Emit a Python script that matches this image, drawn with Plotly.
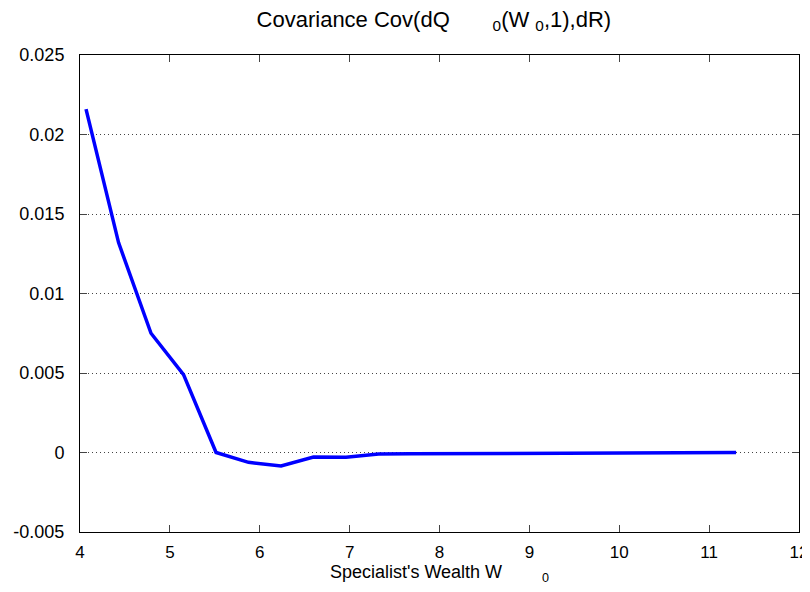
import plotly.graph_objects as go

wealth = [4.067, 4.429, 4.790, 5.152, 5.514, 5.875, 6.237, 6.598, 6.960, 7.322,
          7.683, 8.045, 8.407, 8.768, 9.130, 9.492, 9.853, 10.215, 10.576, 10.938, 11.300]
cov = [0.0216, 0.0132, 0.0075, 0.0049, 0.0000, -0.00062, -0.00085, -0.00028, -0.0003, -0.0001,
       -0.00008, -0.00007, -0.00005, -0.00005, -0.00004, -0.00003, -0.00003, -0.00002, -0.00001, -0.00001, 0.0]

ytick_vals = [-0.005, 0, 0.005, 0.01, 0.015, 0.02, 0.025]
ytick_text = ["-0.005", "0", "0.005", "0.01", "0.015", "0.02", "0.025"]
xtick_vals = [4, 5, 6, 7, 8, 9, 10, 11, 12]

NB = "\u00a0"
title_text = ("Covariance Cov(dQ" + NB * 7 + "<sub>0</sub>(W" + NB + "<sub>0</sub>,1),dR)")
xlabel_text = "Specialist's Wealth W" + NB * 8 + "<sub>0</sub>"

FAM = "Liberation Sans, Arial, sans-serif"

fig = go.Figure()
fig.add_trace(go.Scatter(x=wealth, y=cov, mode="lines",
                         line=dict(color="#0000ff", width=3.5), showlegend=False))

# page body has an 8px default margin, so the figure is 8px smaller than the window
fig.update_layout(
    width=802, height=584,
    margin=dict(l=72, r=11, t=47, b=60, autoexpand=False),
    paper_bgcolor="white", plot_bgcolor="white",
    font=dict(family=FAM, size=18, color="black"),
    title=dict(text=title_text,
               x=0.531, xanchor="center", y=0.981, yanchor="middle",
               font=dict(family=FAM, size=22, color="black")),
)
fig.update_xaxes(range=[4, 12], tickvals=xtick_vals, ticks="inside", ticklen=7,
                 tickfont=dict(size=17), automargin=False, ticklabelstandoff=5,
                 ticklabeloverflow="allow",
                 showline=True, linecolor="black", linewidth=1, mirror="ticks",
                 showgrid=False, zeroline=False,
                 title=dict(text=xlabel_text, standoff=0, font=dict(size=18)))
fig.update_yaxes(range=[-0.005, 0.025], tickvals=ytick_vals, ticktext=ytick_text,
                 ticks="inside", ticklen=7, tickfont=dict(size=18), automargin=False,
                 ticklabelstandoff=11, ticklabeloverflow="allow",
                 showline=True, linecolor="black", linewidth=1, mirror="ticks",
                 showgrid=True, gridcolor="#444444", griddash="1px,3px", gridwidth=1,
                 zeroline=False)
fig.write_html("out.html")
